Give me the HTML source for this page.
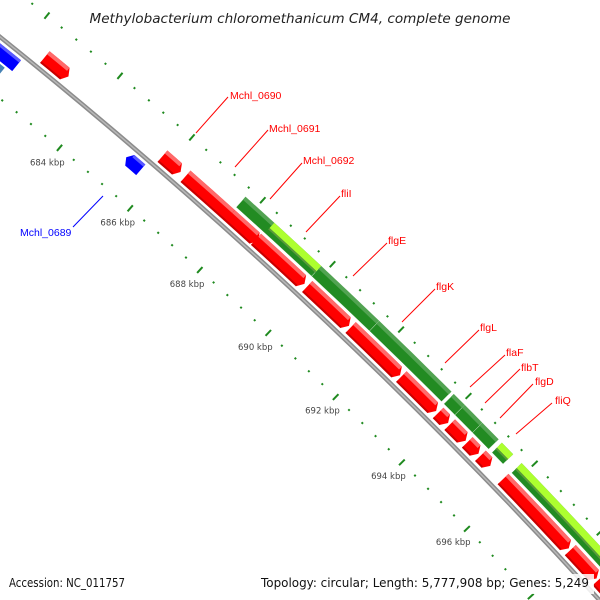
<!DOCTYPE html>
<html><head><meta charset="utf-8"><style>
html,body{margin:0;padding:0;background:#fff;width:600px;height:600px;overflow:hidden;}
svg{display:block;}
</style></head><body>
<svg id="map" width="600" height="600" viewBox="0 0 600 600" xmlns="http://www.w3.org/2000/svg" font-family="'DejaVu Sans','Liberation Sans',sans-serif" overflow="hidden">
<rect width="600" height="600" fill="#fff"/>
<g id="plot"></g>
<g id="labels"></g>
<text x="300" y="23" text-anchor="middle" font-style="italic" font-size="13" fill="#222" textLength="421" lengthAdjust="spacingAndGlyphs">Methylobacterium chloromethanicum CM4, complete genome</text>
<rect x="258" y="574" width="336" height="20" fill="#fff" opacity="0.85"/>
<text x="9" y="587" font-size="12" fill="#111" textLength="116" lengthAdjust="spacingAndGlyphs">Accession: NC_011757</text>
<text x="261" y="587" font-size="12" fill="#111" textLength="328" lengthAdjust="spacingAndGlyphs">Topology: circular; Length: 5,777,908 bp; Genes: 5,249</text>
</svg>
<script>
// ---- data (kbp) ----
const fwdStarts = [682.52, 685.79, 686.44, 687.70, 688.45, 689.93, 691.20, 692.70, 693.80, 694.15, 694.68, 695.08, 695.77, 697.85, 698.72];
const fwdEnds   = [683.17, 686.30, 687.80, 688.51, 689.85, 691.15, 692.66, 693.74, 694.10, 694.63, 695.02, 695.38, 697.80, 698.67, 700.50];
const darkStarts = [687.68, 689.85, 691.54, 693.75, 694.08, 694.61, 695.20, 695.80];
const darkEnds   = [689.85, 691.54, 693.68, 694.08, 694.61, 695.10, 695.54, 700.50];
const limeStarts = [688.50, 695.20, 695.80];
const limeEnds   = [689.85, 695.54, 700.50];
const revStarts = [679.00, 685.22];
const revEnds   = [682.17, 685.63];
const otherStarts = [679.00];
const otherEnds = [682.00];
const tickLabels = [684, 686, 688, 690, 692, 694, 696];
const tickMin = 676, tickMax = 702;

// ---- geometry ----
const CX = -3314, CY = 4164;
const R_BB = 5293;
function ang(k){ return (-49.97 + (k - 684) * 0.508) * Math.PI / 180; }
function pt(k, r){ const a = ang(k); return [CX + r * Math.cos(a), CY + r * Math.sin(a)]; }
const NS = 'http://www.w3.org/2000/svg';
const plot = document.getElementById('plot');
function mk(tag, attrs, parent){ const e = document.createElementNS(NS, tag); for (const k in attrs) e.setAttribute(k, attrs[k]); (parent||plot).appendChild(e); return e; }
function f(p){ return p[0].toFixed(2)+','+p[1].toFixed(2); }
function arcBand(k1, k2, r1, r2){
  const a = pt(k1, r2), b = pt(k2, r2), c = pt(k2, r1), d = pt(k1, r1);
  return 'M'+f(a)+' A'+r2+','+r2+' 0 0 1 '+f(b)+' L'+f(c)+' A'+r1+','+r1+' 0 0 0 '+f(d)+' Z';
}
function arrowFwd(k1, k2, r1, r2){
  const h = 0.1, kb = Math.max(k1, k2 - h), rm = (r1 + r2) / 2;
  const a = pt(k1, r2), b = pt(kb, r2), t = pt(k2, rm), c = pt(kb, r1), d = pt(k1, r1);
  return 'M'+f(a)+' A'+r2+','+r2+' 0 0 1 '+f(b)+' L'+f(t)+' L'+f(c)+' A'+r1+','+r1+' 0 0 0 '+f(d)+' Z';
}
function arrowRev(k1, k2, r1, r2){
  const h = 0.1, ka = Math.min(k2, k1 + h), rm = (r1 + r2) / 2;
  const t = pt(k1, rm), a = pt(ka, r2), b = pt(k2, r2), c = pt(k2, r1), d = pt(ka, r1);
  return 'M'+f(t)+' L'+f(a)+' A'+r2+','+r2+' 0 0 1 '+f(b)+' L'+f(c)+' A'+r1+','+r1+' 0 0 0 '+f(d)+' Z';
}

// ticks
for (let i = 0; i <= Math.round((tickMax - tickMin) / 0.4); i++) {
  const k = tickMin + i * 0.4;
  const major = Math.abs(k / 2 - Math.round(k / 2)) < 1e-6;
  [5245, 5339].forEach(function(r){
    const L = major ? 4 : 1;
    const p1 = pt(k, r - L), p2 = pt(k, r + L);
    const t = mk('line', {x1:p1[0], y1:p1[1], x2:p2[0], y2:p2[1], stroke:'#1f8a1f', 'stroke-width':2});
    
    
  });
}
tickLabels.forEach(function(k){
  const p = pt(k, 5226);
  const t = mk('text', {x:p[0], y:p[1] + 3, 'text-anchor':'middle', 'font-size':8.5, fill:'#444'});
  t.textContent = k + ' kbp';
  
  
});

// backbone
const bbPath = 'M'+f(pt(675, R_BB))+' A'+R_BB+','+R_BB+' 0 0 1 '+f(pt(703, R_BB));
const bb = mk('path', {d:bbPath, fill:'none', stroke:'#8c8c8c', 'stroke-width':4.5});


const bb2 = mk('path', {d:bbPath, fill:'none', stroke:'#b8b8b8', 'stroke-width':1.5});



// other inner features
otherStarts.forEach(function(s, i){
  const e = mk('path', {d:arcBand(s, otherEnds[i], 5259, 5272), fill:'#4682b4'});
  
  
});
const orange = mk('path', {d:arcBand(679, 681.7, 5250, 5258), fill:'#f5a030'});



// reverse (blue)
revStarts.forEach(function(s, i){
  const e = mk('path', {d:arrowRev(s, revEnds[i], 5274, 5288), fill:'#0000ff'});
  
  
  const h = mk('path', {d:arcBand(Math.min(revEnds[i], s + 0.1), revEnds[i], 5285, 5288), fill:'#5a5aff'});
  
  
});

// forward (red)
fwdStarts.forEach(function(s, i){
  const e = mk('path', {d:arrowFwd(s, fwdEnds[i], 5298, 5313), fill:'#ff0000'});
  
  
  const h = mk('path', {d:arcBand(s, Math.max(s, fwdEnds[i] - 0.1), 5309, 5313), fill:'#ff6a6a'});
  
  
  const d = mk('path', {d:arcBand(s, Math.max(s, fwdEnds[i] - 0.1), 5298, 5300), fill:'#c80000'});
  
  
});

// dark green
darkStarts.forEach(function(s, i){
  const e = mk('path', {d:arcBand(s, darkEnds[i], 5316, 5330), fill:'#228b22', stroke:'#e8f5e8', 'stroke-width':0.4});
  
  
  const h = mk('path', {d:arcBand(s, darkEnds[i], 5326, 5330), fill:'#52a352'});
  
  
});
// lime
limeStarts.forEach(function(s, i){
  const e = mk('path', {d:arcBand(s, limeEnds[i], 5323, 5330), fill:'#adff2f'});
  
  
  const d = mk('path', {d:arcBand(s, limeEnds[i], 5321, 5323), fill:'#5a9a3a'});
  
  
});

// gene labels
const labelNames = ['Mchl_0690','Mchl_0691','Mchl_0692','fliI','flgE','flgK','flgL','flaF','flbT','flgD','fliQ','Mchl_0689'];
const labelX = [230,269,303,341,388,436,480,506,521,535,555,20];
const labelY = [99,132,164,197,244,290,331,356,371,385,404,236];
const lineSeg = [[196,133,228,97],[235,167,268,130],[270,199,302,163],[306,232,340,196],[353,276,387,243],[402,322,435,289],[445,363,479,330],[470,387,505,355],[485,403,520,369],[500,418,533,384],[516,434,552,403],[73,227,103,196]];
const lg = document.getElementById('labels');
labelNames.forEach(function(n, i){
  const col = i === 11 ? '#0000ff' : '#ff0000';
  const s = lineSeg[i];
  const l = mk('line', {x1:s[0], y1:s[1], x2:s[2], y2:s[3], stroke:col, 'stroke-width':1}, lg);
  
  
  const t = mk('text', {x:labelX[i], y:labelY[i], 'font-size':10.5, fill:col, 'font-family':"'Liberation Sans',sans-serif"}, lg);
  t.textContent = n;
  
  
});
</script>
</body></html>
